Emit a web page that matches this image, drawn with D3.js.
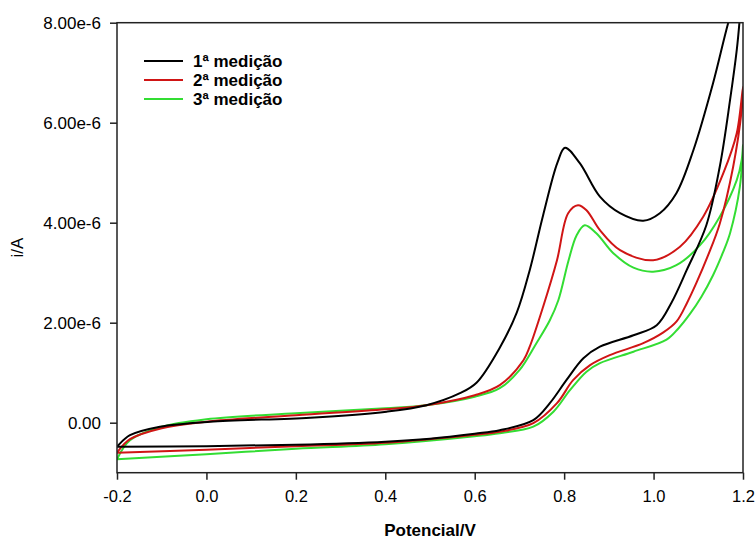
<!DOCTYPE html>
<html>
<head>
<meta charset="utf-8">
<script src="https://cdn.jsdelivr.net/npm/d3@7"></script>
<style>
  body { margin: 0; background: #fff; }
  svg { display: block; font-family: Arial, "Liberation Sans", sans-serif; }
</style>
</head>
<body>
<svg id="chart"></svg>
<script>
// Cyclic voltammograms, three measurements.
// Each series: forward scan -0.2 -> 1.2 V, then back to -0.2 V.
// Currents are given in microamps (µA) and converted to A below.

const seriesNames = ["1ª medição", "2ª medição", "3ª medição"];
const seriesColors = ["#000000", "#d01515", "#33dd33"];

const med1Potential = [-0.2, 0.0, 0.2, 0.4, 0.5, 0.6, 0.656, 0.731, 0.768, 0.805, 0.843, 0.880, 0.955, 1.007, 1.040, 1.074, 1.118, 1.148, 1.171, 1.186, 1.192, 1.2,
    1.167, 1.133, 1.089, 1.051, 1.014, 0.977, 0.925, 0.880, 0.835, 0.802, 0.785, 0.753, 0.723, 0.694, 0.656, 0.604, 0.567, 0.492, 0.403, 0.232, 0.008, -0.104, -0.171, -0.197, -0.2];
const med1Current = [-0.48, -0.47, -0.44, -0.38, -0.32, -0.22, -0.15, 0.05, 0.39, 0.85, 1.29, 1.52, 1.75, 1.95, 2.40, 3.05, 3.95, 5.12, 6.45, 7.45, 8.0, 9.0,
    8.0, 6.79, 5.45, 4.59, 4.19, 4.04, 4.19, 4.52, 5.19, 5.5, 5.2, 4.15, 3.05, 2.2, 1.5, 0.8, 0.59, 0.35, 0.22, 0.10, 0.02, -0.08, -0.25, -0.45, -0.48];

const med2Potential = [-0.2, 0.0, 0.2, 0.4, 0.6, 0.656, 0.731, 0.784, 0.820, 0.858, 0.902, 0.977, 1.021, 1.051, 1.075, 1.096, 1.122, 1.148, 1.178, 1.197, 1.2,
    1.186, 1.156, 1.111, 1.059, 0.999, 0.925, 0.880, 0.850, 0.831, 0.809, 0.784, 0.753, 0.723, 0.709, 0.656, 0.6, 0.492, 0.4, 0.2, 0.0, -0.1, -0.171, -0.2];
const med2Current = [-0.60, -0.54, -0.47, -0.40, -0.24, -0.18, -0.01, 0.39, 0.85, 1.15, 1.35, 1.59, 1.80, 2.02, 2.40, 2.80, 3.35, 3.98, 5.12, 6.25, 6.72,
    5.79, 4.99, 4.12, 3.52, 3.25, 3.45, 3.85, 4.25, 4.35, 4.19, 3.25, 2.32, 1.52, 1.25, 0.75, 0.55, 0.35, 0.27, 0.15, 0.02, -0.11, -0.33, -0.60];

const med3Potential = [-0.2, 0.0, 0.2, 0.4, 0.6, 0.656, 0.731, 0.776, 0.813, 0.850, 0.880, 0.955, 1.029, 1.055, 1.081, 1.107, 1.133, 1.155, 1.171, 1.193, 1.2,
    1.197, 1.186, 1.148, 1.104, 1.051, 0.999, 0.955, 0.910, 0.872, 0.846, 0.828, 0.810, 0.787, 0.768, 0.738, 0.700, 0.656, 0.6, 0.492, 0.4, 0.2, 0.0, -0.1, -0.171, -0.2];
const med3Current = [-0.73, -0.63, -0.52, -0.43, -0.27, -0.21, -0.08, 0.22, 0.65, 1.02, 1.19, 1.42, 1.66, 1.88, 2.17, 2.52, 2.95, 3.40, 3.79, 4.72, 5.55,
    5.25, 4.85, 4.12, 3.55, 3.15, 3.02, 3.10, 3.39, 3.79, 3.95, 3.75, 3.25, 2.45, 2.05, 1.59, 1.05, 0.69, 0.52, 0.35, 0.29, 0.19, 0.07, -0.08, -0.35, -0.73];

const xTicks = [-0.2, 0.0, 0.2, 0.4, 0.6, 0.8, 1.0, 1.2];
const yTicks = [0, 2e-6, 4e-6, 6e-6, 8e-6];

const width = 756, height = 541;
const margin = { top: 22.7, right: 13, bottom: 68.3, left: 117 };

const svg = d3.select("#chart")
    .attr("width", width)
    .attr("height", height);

const x = d3.scaleLinear()
    .domain([-0.2, 1.2])
    .range([margin.left, width - margin.right]);

const y = d3.scaleLinear()
    .domain([-1e-6, 8e-6])
    .range([height - margin.bottom, margin.top]);

// clip the curves to the plot frame
svg.append("clipPath")
    .attr("id", "plotClip")
    .append("rect")
    .attr("x", margin.left)
    .attr("y", margin.top)
    .attr("width", width - margin.left - margin.right)
    .attr("height", height - margin.top - margin.bottom);

const toPoints = (pot, cur) => pot.map((v, i) => [v, cur[i] * 1e-6]);
const allSeries = [
    toPoints(med1Potential, med1Current),
    toPoints(med2Potential, med2Current),
    toPoints(med3Potential, med3Current)
];

const line = d3.line()
    .x(d => x(d[0]))
    .y(d => y(d[1]))
    .curve(d3.curveCatmullRom.alpha(0.5));

const curves = svg.append("g").attr("clip-path", "url(#plotClip)");

// draw in reverse so black ends on top
[2, 1, 0].forEach(k => {
    curves.append("path")
        .datum(allSeries[k])
        .attr("fill", "none")
        .attr("stroke", seriesColors[k])
        .attr("stroke-width", 2)
        .attr("stroke-linejoin", "round")
        .attr("d", line);
});

// frame
const frameColor = "#222";
svg.append("rect")
    .attr("x", margin.left)
    .attr("y", margin.top)
    .attr("width", width - margin.left - margin.right)
    .attr("height", height - margin.top - margin.bottom)
    .attr("fill", "none")
    .attr("stroke", frameColor)
    .attr("stroke-width", 1.5);

// x axis
const xAxis = svg.append("g")
    .attr("transform", `translate(0, ${height - margin.bottom})`)
    .call(d3.axisBottom(x).tickValues(xTicks).tickSize(7).tickPadding(11)
        .tickFormat(d => d.toFixed(1)));
xAxis.select(".domain").remove();
xAxis.selectAll(".tick line").attr("stroke", frameColor).attr("stroke-width", 1.5);
xAxis.selectAll("text").attr("font-size", 16.5).attr("fill", "#000")
    .attr("font-family", "Arial, 'Liberation Sans', sans-serif");

// y axis
const yAxis = svg.append("g")
    .attr("transform", `translate(${margin.left}, 0)`)
    .call(d3.axisLeft(y).tickValues(yTicks).tickSize(7).tickPadding(9)
        .tickFormat(d => d === 0 ? "0.00" : d.toExponential(2)));
yAxis.select(".domain").remove();
yAxis.selectAll(".tick line").attr("stroke", frameColor).attr("stroke-width", 1.5);
yAxis.selectAll("text").attr("font-size", 17).attr("fill", "#000")
    .attr("font-family", "Arial, 'Liberation Sans', sans-serif");

// axis titles
svg.append("text")
    .attr("x", (margin.left + width - margin.right) / 2)
    .attr("y", 536)
    .attr("text-anchor", "middle")
    .attr("font-size", 17)
    .attr("font-weight", "bold")
    .text("Potencial/V");

svg.append("text")
    .attr("transform", `translate(23, ${(margin.top + height - margin.bottom) / 2}) rotate(-90)`)
    .attr("text-anchor", "middle")
    .attr("font-size", 17)
    .text("i/A");

// legend
const legend = svg.append("g").attr("transform", "translate(144, 61)");
seriesNames.forEach((name, k) => {
    const row = legend.append("g").attr("transform", `translate(0, ${k * 19})`);
    row.append("line")
        .attr("x1", 0).attr("x2", 39)
        .attr("stroke", seriesColors[k])
        .attr("stroke-width", 2);
    row.append("text")
        .attr("x", 49)
        .attr("dy", "0.35em")
        .attr("font-size", 17)
        .attr("font-weight", "bold")
        .text(name);
});
</script>
</body>
</html>
